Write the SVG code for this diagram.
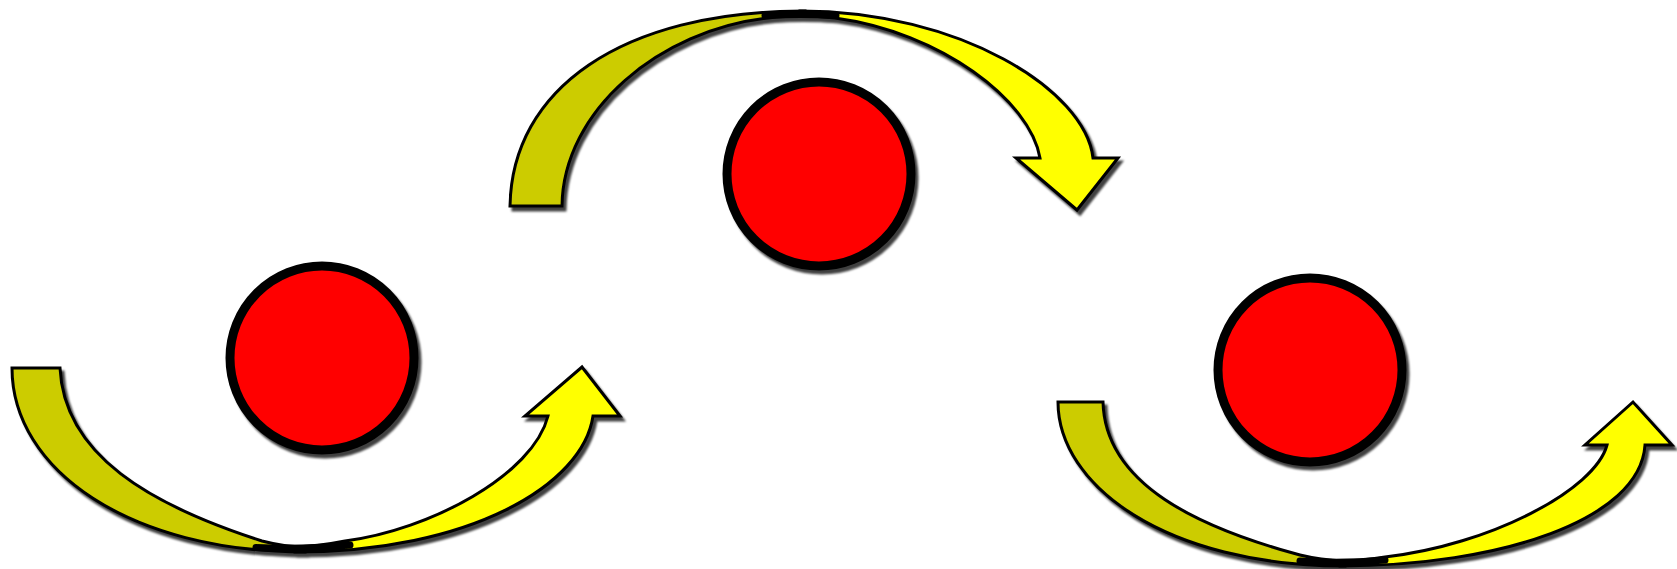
<svg xmlns="http://www.w3.org/2000/svg" width="1677" height="569" viewBox="0 0 1677 569">
<defs>
<filter id="sh" x="-10%" y="-10%" width="120%" height="130%">
<feDropShadow dx="3" dy="4" stdDeviation="1" flood-color="#000" flood-opacity="0.75"/>
</filter>
<style>
.node{fill:#FF0000;stroke:#000;stroke-width:9}
.back{fill:#CCCC00;stroke:#000;stroke-width:3;stroke-linejoin:miter}
.front{fill:#FFFF00;stroke:#000;stroke-width:3;stroke-linejoin:miter}
.joint{fill:none;stroke:#000;stroke-width:7;stroke-linecap:round}
</style>
</defs>
<rect width="1677" height="569" fill="#fff"/>
<g id="connectors" filter="url(#sh)">
<g id="arrow1">
<path class="back" d="M 12,368 L 60,368 C 64,455 150,505 262,541 Q 285,547 305,547 L 305,552 C 130,552 12,470 12,368 Z"/>
<path class="front" d="M 295,552 C 470,552 583,485 593,416 L 620,416 L 582,367 L 525,416 L 548,416 C 533,475 430,530 345,541 Q 320,546 295,547 Z"/>
<path class="joint" d="M 256,547.5 Q 300,550 350,545"/>
</g>
<g id="arrow2">
<path class="back" d="M 510,206 L 562,206 C 563,110 660,30 768,18 Q 785,16 805,16 L 805,11 C 620,11 512,90 510,206 Z"/>
<path class="front" d="M 800,11 C 960,11 1085,90 1093,158 L 1118,158 L 1077,210 L 1016,158 L 1040,158 C 1030,100 940,32 835,18 Q 818,16 800,16 Z"/>
<path class="joint" d="M 765,15.5 Q 800,13.5 836,15.5"/>
</g>
<g id="arrow3">
<path class="back" d="M 1058,402 L 1103,402 C 1105,485 1200,528 1300,555 Q 1320,560 1345,561 L 1345,566 C 1165,566 1058,485 1058,402 Z"/>
<path class="front" d="M 1340,566 C 1500,566 1640,520 1645,445 L 1672,445 L 1633,402 L 1585,445 L 1607,445 C 1595,490 1490,545 1385,557 Q 1360,561 1340,561 Z"/>
<path class="joint" d="M 1300,561 Q 1340,564 1385,560"/>
</g>
</g>
<g id="node1" filter="url(#sh)"><circle class="node" cx="322" cy="358" r="92"/></g>
<g id="node2" filter="url(#sh)"><circle class="node" cx="819" cy="174" r="92"/></g>
<g id="node3" filter="url(#sh)"><circle class="node" cx="1310" cy="370" r="92"/></g>
</svg>
